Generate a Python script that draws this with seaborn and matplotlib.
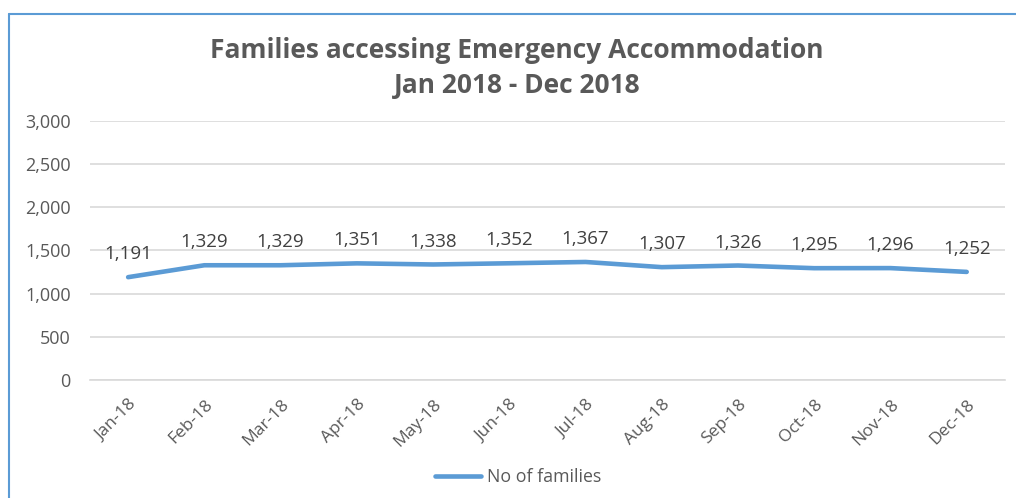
import pandas as pd
import numpy as np
import matplotlib
matplotlib.use("Agg")
import matplotlib.pyplot as plt
import seaborn as sns
from matplotlib.lines import Line2D

# data
months = ["Jan-18", "Feb-18", "Mar-18", "Apr-18", "May-18", "Jun-18",
          "Jul-18", "Aug-18", "Sep-18", "Oct-18", "Nov-18", "Dec-18"]
families = [1191, 1329, 1329, 1351, 1338, 1352, 1367, 1307, 1326, 1295, 1296, 1252]

df = pd.DataFrame({"month": months, "No of families": families})

sns.set_style("white")
plt.rcParams["font.family"] = ["Open Sans", "DejaVu Sans"]

fig = plt.figure(figsize=(10.16, 4.98), dpi=100)
ax = fig.add_axes([0.0886, 0.237, 0.9004, 0.520])

blue = "#5B9BD5"
grey = "#595959"

sns.lineplot(data=df, x="month", y="No of families", ax=ax, color=blue,
             linewidth=3.3, sort=False, legend=False)

for i, v in enumerate(families):
    ax.annotate(f"{v:,}", (i, v), xytext=(0, 10), textcoords="offset points",
                ha="center", va="bottom", fontsize=13.5, color="#404040")

ax.set_ylim(0, 3000)
ax.set_xlim(-0.5, len(months) - 0.5)
ax.set_yticks(np.arange(0, 3001, 500))
ax.set_yticklabels([f"{t:,}" for t in range(0, 3001, 500)])
ax.set_xticks(range(len(months)))
ax.set_xticklabels(months, rotation=45, ha="right", rotation_mode="anchor")
ax.set_xticks(np.arange(-0.5, len(months)), minor=True)
ax.tick_params(axis="x", which="major", length=0, pad=12, labelsize=12.5, labelcolor=grey)
ax.tick_params(axis="x", which="minor", length=6, color="#D9D9D9", width=1.2)
ax.tick_params(axis="y", length=0, pad=14, labelsize=13, labelcolor=grey)
ax.set_xlabel("")
ax.set_ylabel("")
ax.yaxis.grid(True, color="#D9D9D9", linewidth=1.2)
ax.set_axisbelow(True)
for s in ["top", "right", "left"]:
    ax.spines[s].set_visible(False)
ax.spines["bottom"].set_color("#D9D9D9")
ax.spines["bottom"].set_linewidth(1.2)

fig.text(0.509, 0.863, "Families accessing Emergency Accommodation\nJan 2018 - Dec 2018",
         ha="center", va="center", fontsize=19, fontweight="bold", color=grey,
         linespacing=1.38)

handle = Line2D([], [], color=blue, linewidth=3.3)
fig.legend([handle], ["No of families"], loc="center", bbox_to_anchor=(0.51, 0.042),
           frameon=False, fontsize=12.8, labelcolor=grey, handlelength=2.6,
           handletextpad=0.3)

# outer chart frame (only left and top visible in the crop)
fig.add_artist(Line2D([0.009, 0.009], [0, 0.972], color=blue, linewidth=1.5,
                      transform=fig.transFigure))
fig.add_artist(Line2D([0.009, 1.0], [0.972, 0.972], color=blue, linewidth=1.5,
                      transform=fig.transFigure))

fig.savefig("out.png", dpi=100)
